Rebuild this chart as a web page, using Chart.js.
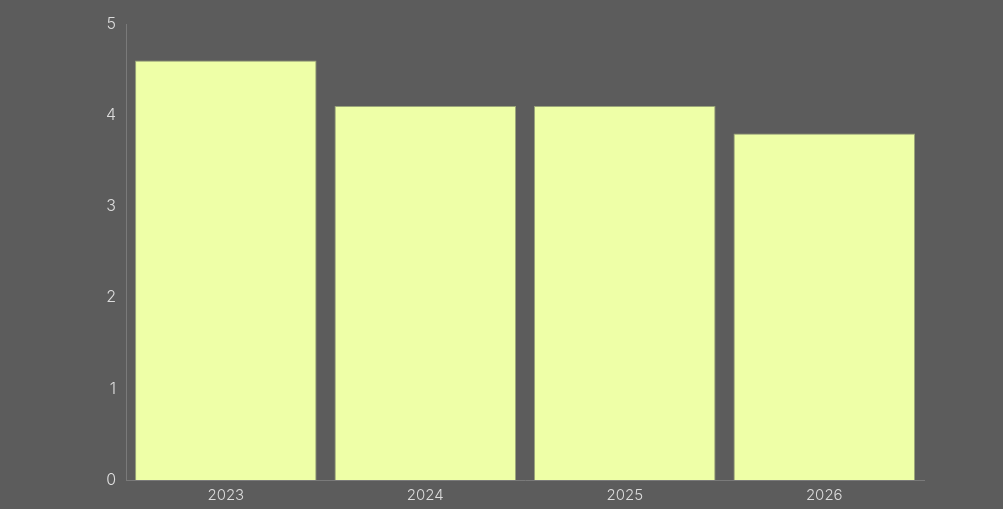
<!DOCTYPE html>
<html>
<head>
<meta charset="utf-8">
<script src="https://cdn.jsdelivr.net/npm/chart.js@4"></script>
<style>
  html, body { margin: 0; padding: 0; background: #5c5c5c; }
  #wrap { width: 1003px; height: 509px; }
</style>
</head>
<body>
<div id="wrap"><canvas id="chart"></canvas></div>
<script>
const years = ['2023', '2024', '2025', '2026'];
const values = [4.6, 4.1, 4.1, 3.8];
const yTicks = [0, 1, 2, 3, 4, 5];

const textColor = '#dcdcdc';
const axisColor = '#7a7a7a';

new Chart(document.getElementById('chart'), {
    type: 'bar',
    data: {
        labels: years,
        datasets: [{
            data: values,
            backgroundColor: '#eeffa7',
            borderColor: '#9aa57a',
            borderWidth: 1,
            barPercentage: 0.91,
            categoryPercentage: 1
        }]
    },
    options: {
        responsive: true,
        maintainAspectRatio: false,
        animation: false,
        layout: { padding: { top: 24, right: 79, left: 104, bottom: 6 } },
        scales: {
            y: {
                min: 0, max: 5,
                afterBuildTicks: (axis) => { axis.ticks = yTicks.map(v => ({ value: v })); },
                ticks: { color: textColor, padding: 2, font: { family: 'Inter, sans-serif', size: 16, weight: 300 } },
                grid: { display: false },
                border: { display: true, color: axisColor }
            },
            x: {
                ticks: { color: textColor, padding: 0, font: { family: 'Inter, sans-serif', size: 15, weight: 300, lineHeight: 1.0 } },
                grid: { display: false },
                border: { display: true, color: axisColor }
            }
        },
        plugins: {
            legend: { display: false },
            tooltip: { enabled: false }
        }
    }
});
</script>
</body>
</html>
